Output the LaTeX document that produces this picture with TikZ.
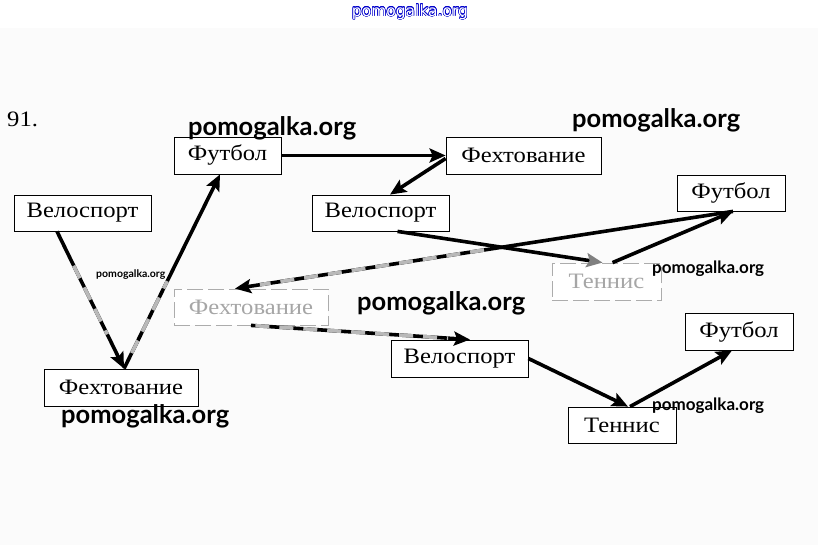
\documentclass[tikz,border=0pt]{standalone}
\usepackage{fontspec}
\setmainfont{Liberation Serif}[FakeStretch=1.12]
\newfontfamily\wmfont{Lato}
\newfontfamily\topfont{DejaVu Sans}
\usepackage{contour}
\contourlength{0.5pt}
\usetikzlibrary{arrows.meta,calc}
\begin{document}
\begin{tikzpicture}[x=1pt,y=-1pt,
  font=\fontsize{22}{26}\selectfont,
  box/.style={draw, line width=0.8pt, fill=white, inner sep=0pt},
  fadedbox/.style={draw=gray!65, line width=0.8pt, dash pattern=on 16pt off 5pt, fill=white, text=gray!70, inner sep=0pt},
  arr/.style={line width=3.6pt, -{Stealth[length=16pt,width=14pt,inset=3pt]}},
  grayover/.style={line width=3.6pt, draw=gray!55, dash pattern=on 14pt off 10pt},
  wmbig/.style={font=\wmfont\bfseries\fontsize{25.5}{28}\selectfont, anchor=base west, inner sep=0pt},
  wmmid/.style={font=\wmfont\bfseries\fontsize{17}{20}\selectfont, anchor=base west, inner sep=0pt},
  wmsmall/.style={font=\wmfont\bfseries\fontsize{10.5}{12}\selectfont, anchor=base west, inner sep=0pt}]
\useasboundingbox (0,0) rectangle (818,545);
\fill[white] (0,0) rectangle (818,28);
\fill[gray!3] (0,28) rectangle (818,545);

\node[font=\topfont\fontsize{15.5}{18}\selectfont, inner sep=0pt] (top) at (410,12) {\contour{blue!80!black}{\textcolor{white}{pomogalka.org}}};
\node[anchor=base west, inner sep=0pt] (num) at (7,127) {91.};

% boxes
\node[box, minimum width=107pt, minimum height=37pt] (f1) at (227.5,155.5) {Футбол};
\node[box, minimum width=155pt, minimum height=37pt] (h1) at (523.5,155.5) {Фехтование};
\node[box, minimum width=137pt, minimum height=36pt] (v1) at (82.5,213) {Велоспорт};
\node[box, minimum width=137pt, minimum height=36pt] (v2) at (380.5,213) {Велоспорт};
\node[box, minimum width=108pt, minimum height=36pt] (f2) at (731,193) {Футбол};
\node[fadedbox, minimum width=109pt, minimum height=37pt] (t1) at (606.5,281.5) {Теннис};
\node[fadedbox, minimum width=154pt, minimum height=36pt] (h2) at (251,307) {Фехтование};
\node[box, minimum width=137pt, minimum height=37pt] (v3) at (459.5,358.5) {Велоспорт};
\node[box, minimum width=108pt, minimum height=37pt] (f3) at (739,331.5) {Футбол};
\node[box, minimum width=154pt, minimum height=37pt] (h3) at (121,387.5) {Фехтование};
\node[box, minimum width=108pt, minimum height=36pt] (t2) at (622,425) {Теннис};

% arrows
\draw[arr] ([xshift=-25.5pt]v1.south) -- ([xshift=3pt]h3.north);
\draw[grayover] ($([xshift=-25.5pt]v1.south)!0.25!([xshift=3pt]h3.north)$) -- ($([xshift=-25.5pt]v1.south)!0.75!([xshift=3pt]h3.north)$);
\draw[arr] ([xshift=3pt]h3.north) -- ([xshift=-7.5pt]f1.south);
\draw[grayover] ($([xshift=3pt]h3.north)!0.08!([xshift=-7.5pt]f1.south)$) -- ($([xshift=3pt]h3.north)!0.45!([xshift=-7.5pt]f1.south)$);
\draw[arr] (f1.east) -- (h1.west);
\draw[arr] ([yshift=-3pt]h1.west) -- ([xshift=9.5pt]v2.north);
\draw[arr, -{Stealth[length=16pt,width=14pt,inset=3pt,color=gray]}] ([xshift=17pt]v2.south) -- ([xshift=-4pt]t1.north);
\draw[arr] ([xshift=6pt]t1.north) -- ([xshift=2pt]f2.south);
\draw[arr] ([xshift=2pt]f2.south) -- ([xshift=-16pt]h2.north);
\draw[grayover] ($([xshift=2pt]f2.south)!0.5!([xshift=-16pt]h2.north)$) -- ($([xshift=2pt]f2.south)!0.95!([xshift=-16pt]h2.north)$);
\draw[arr] (h2.south) -- ([xshift=10.5pt]v3.north);
\draw[grayover] ($(h2.south)!0.02!([xshift=10.5pt]v3.north)$) -- ($(h2.south)!0.9!([xshift=10.5pt]v3.north)$);
\draw[arr] (v3.east) -- ([xshift=6pt]t2.north);
\draw[arr] ([xshift=8pt]t2.north) -- ([xshift=-7pt]f3.south);

% watermarks
\node[wmbig] (w1) at (188,136) {pomogalka.org};
\node[wmbig] (w2) at (572,128) {pomogalka.org};
\node[wmbig] (w3) at (357,310) {pomogalka.org};
\node[wmbig] (w4) at (61,423) {pomogalka.org};
\node[wmsmall] (w5) at (96,277) {pomogalka.org};
\node[wmmid] (w6) at (652,273) {pomogalka.org};
\node[wmmid] (w7) at (652,410) {pomogalka.org};
\end{tikzpicture}
\end{document}
